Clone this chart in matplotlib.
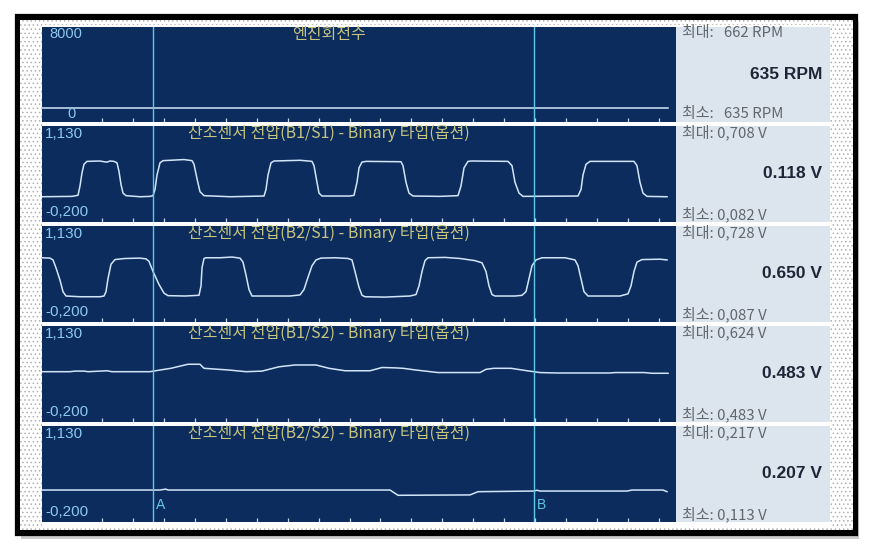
import matplotlib
matplotlib.use('Agg')
import matplotlib.pyplot as plt
from matplotlib.patches import Rectangle

plt.rcParams['font.family'] = ['Noto Sans CJK KR', 'DejaVu Sans']
plt.rcParams['hatch.linewidth'] = 0.6

# ---- data (time axis in screen samples, 0..634) ----
titles = ['엔진회전수',
          '산소센서 전압(B1/S1) - Binary 타입(옵션)',
          '산소센서 전압(B2/S1) - Binary 타입(옵션)',
          '산소센서 전압(B1/S2) - Binary 타입(옵션)',
          '산소센서 전압(B2/S2) - Binary 타입(옵션)']
y_top_labels = ['8000', '1,130', '1,130', '1,130', '1,130']
y_bot_labels = ['0', '-0,200', '-0,200', '-0,200', '-0,200']
max_labels = ['최대:   662 RPM', '최대: 0,708 V', '최대: 0,728 V', '최대: 0,624 V', '최대: 0,217 V']
cur_labels = ['635 RPM', '0.118 V', '0.650 V', '0.483 V', '0.207 V']
min_labels = ['최소:   635 RPM', '최소: 0,082 V', '최소: 0,087 V', '최소: 0,483 V', '최소: 0,113 V']

rpm_t = [0, 626]
rpm_v = [635, 635]

b1s1_t = [0, 30, 36, 38, 40, 42, 45, 58, 62, 65, 68, 72, 75, 77, 79, 81, 84, 98, 108, 111,
          113, 115, 118, 121, 135, 142, 150, 152, 155, 158, 162, 188, 222, 224, 226, 229,
          232, 258, 270, 272, 275, 277, 280, 308, 312, 315, 317, 320, 324, 359, 361, 364,
          367, 371, 398, 416, 419, 422, 426, 430, 466, 470, 473, 477, 481, 536, 539, 541,
          544, 548, 592, 595, 598, 601, 605, 625]
b1s1_v = [0.15, 0.155, 0.17, 0.30, 0.48, 0.60, 0.64, 0.645, 0.635, 0.63, 0.645, 0.64, 0.62,
          0.50, 0.32, 0.20, 0.165, 0.15, 0.155, 0.165, 0.25, 0.45, 0.62, 0.65, 0.66, 0.665,
          0.65, 0.60, 0.40, 0.22, 0.165, 0.15, 0.16, 0.25, 0.45, 0.62, 0.645, 0.655, 0.64,
          0.58, 0.35, 0.20, 0.16, 0.16, 0.17, 0.35, 0.55, 0.63, 0.64, 0.635, 0.58, 0.35,
          0.20, 0.16, 0.155, 0.165, 0.30, 0.55, 0.64, 0.645, 0.64, 0.58, 0.35, 0.20, 0.155,
          0.16, 0.25, 0.45, 0.60, 0.64, 0.64, 0.58, 0.35, 0.20, 0.155, 0.15]

b2s1_t = [0, 8, 11, 14, 18, 21, 24, 38, 58, 62, 64, 66, 69, 73, 83, 98, 104, 107, 111, 117,
          122, 126, 143, 157, 159, 160, 162, 164, 178, 190, 198, 201, 204, 207, 210, 248,
          258, 262, 266, 270, 274, 279, 293, 306, 310, 313, 317, 320, 323, 343, 368, 374,
          377, 380, 383, 386, 403, 418, 433, 440, 444, 447, 450, 453, 473, 480, 484, 487,
          490, 494, 500, 523, 533, 536, 539, 542, 546, 578, 586, 589, 592, 595, 600, 618, 625]
b2s1_v = [0.69, 0.685, 0.66, 0.55, 0.38, 0.22, 0.16, 0.15, 0.15, 0.16, 0.22, 0.40, 0.60,
          0.665, 0.68, 0.685, 0.675, 0.64, 0.50, 0.32, 0.20, 0.165, 0.16, 0.17, 0.30, 0.55,
          0.68, 0.69, 0.69, 0.70, 0.685, 0.63, 0.45, 0.25, 0.16, 0.16, 0.175, 0.25, 0.42,
          0.58, 0.66, 0.685, 0.69, 0.68, 0.66, 0.50, 0.28, 0.17, 0.15, 0.145, 0.16, 0.18,
          0.30, 0.50, 0.65, 0.69, 0.695, 0.68, 0.65, 0.62, 0.50, 0.30, 0.18, 0.16, 0.16,
          0.17, 0.22, 0.40, 0.58, 0.66, 0.69, 0.69, 0.66, 0.58, 0.40, 0.22, 0.16, 0.16,
          0.19, 0.30, 0.50, 0.63, 0.665, 0.67, 0.66]

b1s2_t = [0, 28, 33, 42, 46, 58, 65, 70, 108, 118, 129, 146, 158, 162, 187, 204, 220,
          237, 253, 274, 287, 303, 328, 340, 353, 361, 374, 396, 438, 444, 452, 469, 485,
          498, 515, 568, 573, 602, 610, 626]
b1s2_v = [0.497, 0.497, 0.505, 0.505, 0.497, 0.505, 0.51, 0.497, 0.497, 0.52, 0.544,
          0.60, 0.60, 0.544, 0.52, 0.497, 0.505, 0.565, 0.59, 0.59, 0.544, 0.51, 0.51,
          0.555, 0.55, 0.544, 0.52, 0.485, 0.485, 0.53, 0.544, 0.544, 0.51, 0.485, 0.479,
          0.479, 0.485, 0.485, 0.475, 0.475]

b2s2_t = [0, 111, 118, 121, 124, 126, 348, 356, 428, 436, 492, 495, 498, 585, 590, 621, 625]
b2s2_v = [0.243, 0.243, 0.243, 0.25, 0.255, 0.243, 0.243, 0.17, 0.175, 0.22, 0.229,
          0.24, 0.229, 0.229, 0.243, 0.243, 0.22]

cursor_t = [111, 492]
cursor_names = ['A', 'B']
tick_t = [60 + 30.94 * k for k in range(19)]

series = [(rpm_t, rpm_v), (b1s1_t, b1s1_v), (b2s1_t, b2s1_v), (b1s2_t, b1s2_v), (b2s2_t, b2s2_v)]
ylims = [(-650, 8000), (-0.2, 1.13), (-0.2, 1.13), (-0.2, 1.13), (-0.2, 1.13)]

# ---- colours ----
navy = '#0b2c5c'
info_bg = '#dce5ee'
lbl_blue = '#8ec8f0'
title_col = '#c6c47e'
wave_col = '#d2e6fb'
cursor_col = '#5cc8e8'

W, H = 873, 551
fig = plt.figure(figsize=(W / 100, H / 100), dpi=100)
fig.patch.set_facecolor('white')


def rect(x0, y0, x1, y1):
    return [x0 / W, 1 - y1 / H, (x1 - x0) / W, (y1 - y0) / H]


bg = fig.add_axes([0, 0, 1, 1], zorder=0)
bg.set_xlim(0, W)
bg.set_ylim(H, 0)
bg.axis('off')

# shadow + black frame + dotted area
bg.add_patch(Rectangle((21, 21), 838, 518, facecolor='#9a9a9a', edgecolor='none', alpha=0.5))
bg.add_patch(Rectangle((18, 17), 837, 516, facecolor='white', edgecolor='black', lw=4.5))
bg.add_patch(Rectangle((20, 20), 833, 510, facecolor='white', edgecolor='#b0b0b0',
                       hatch='....', lw=0))
bg.add_patch(Rectangle((42, 25), 788, 501, facecolor='white', edgecolor='none'))

rows = [(27, 122), (126, 222), (226, 322), (326, 422), (426, 522)]
x_left, x_right, x_info = 42, 676, 830

for i, (y0, y1) in enumerate(rows):
    # info box on the right
    bg.add_patch(Rectangle((x_right, y0), x_info - x_right, y1 - y0,
                           facecolor=info_bg, edgecolor='none'))
    bg.text(682, y0 + 6, max_labels[i], fontsize=10.8, color='#62676e', va='center', ha='left')
    bg.text(822, (y0 + y1) / 2, cur_labels[i], fontsize=12.5, color='#1c2636', va='center',
            ha='right', fontweight='bold', family='Liberation Sans')
    bg.text(682, y1 - 8, min_labels[i], fontsize=10.8, color='#62676e', va='center', ha='left')

    ax = fig.add_axes(rect(x_left, y0, x_right, y1), zorder=2)
    ax.set_facecolor(navy)
    for s in ax.spines.values():
        s.set_visible(False)
    ax.set_xlim(0, 634)
    ax.set_ylim(*ylims[i])
    ax.set_xticks([])
    ax.set_yticks([])

    t, v = series[i]
    ax.plot(t, v, color=wave_col, lw=1.1)

    for c in cursor_t:
        ax.axvline(c, color=cursor_col, lw=1.0)

    # small ticks along the bottom
    ax.vlines(tick_t, 0, 0.045, transform=ax.get_xaxis_transform(), color='#c8d6ea', lw=0.9)

    ax.text(0.453, 0.925, titles[i], transform=ax.transAxes, fontsize=11.5, color=title_col,
            ha='center', va='center')
    if i == 0:
        ax.text(0.012, 0.93, y_top_labels[i], transform=ax.transAxes, fontsize=10.5,
                color=lbl_blue, ha='left', va='center', family='Liberation Sans')
        ax.text(0.04, 0.08, y_bot_labels[i], transform=ax.transAxes, fontsize=10.5,
                color=lbl_blue, ha='left', va='center', family='Liberation Sans')
    else:
        ax.text(0.005, 0.92, y_top_labels[i], transform=ax.transAxes, fontsize=11,
                color=lbl_blue, ha='left', va='center', family='Liberation Sans')
        ax.text(0.005, 0.1, y_bot_labels[i], transform=ax.transAxes, fontsize=11,
                color=lbl_blue, ha='left', va='center', family='Liberation Sans')
    if i == 4:
        for c, name in zip(cursor_t, cursor_names):
            ax.text(c + 3, 0.18, name, transform=ax.get_xaxis_transform(), fontsize=10,
                    color=cursor_col, ha='left', va='center', family='Liberation Sans')

fig.savefig('out.png', dpi=100, facecolor='white')
